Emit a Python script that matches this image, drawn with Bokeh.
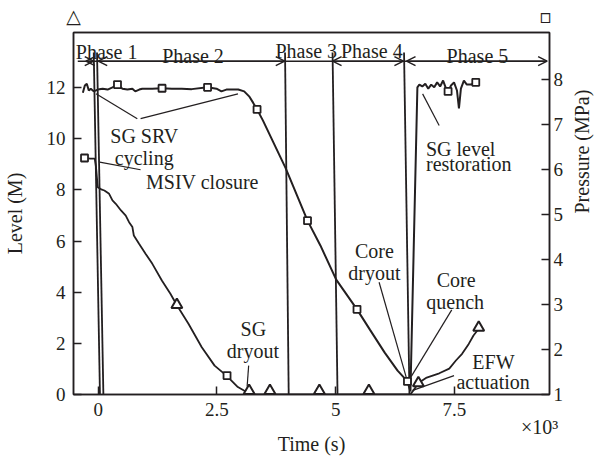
import math
from bokeh.plotting import figure
from bokeh.models import Range1d, LinearAxis, FixedTicker, Label, Arrow, OpenHead
from bokeh.embed import file_html
from bokeh.resources import INLINE

FONT = "Liberation Serif"
INK = "#231f20"

# ---------------- data ----------------
# SG pressure (MPa, right axis) vs time (s)
pressure_t = [-323, -281, -240, -198, -156, -94, -10, 94, 198, 302, 406, 510, 615, 719, 781,
              865, 927, 1135, 1344, 1552, 1760, 1969, 2302, 2490, 2594, 2698, 2948, 3073, 3177,
              3260, 3344, 3469, 3948, 4406, 4677, 5010, 5448, 5719, 6031, 6302, 6510, 6573,
              6719, 6760, 6823, 6885, 6948, 7010, 7073, 7135, 7198, 7260, 7323, 7365, 7427,
              7490, 7552, 7594, 7635, 7698, 7760, 7844, 7948]
pressure_mpa = [7.70, 7.86, 7.90, 7.75, 7.79, 7.73, 7.77, 7.79, 7.77, 7.82, 7.88, 7.79, 7.77, 7.79, 7.73,
                7.77, 7.79, 7.79, 7.80, 7.79, 7.79, 7.78, 7.82, 7.79, 7.73, 7.77, 7.77, 7.73, 7.62,
                7.48, 7.33, 7.08, 6.02, 4.86, 4.31, 3.55, 2.89, 2.44, 1.93, 1.53, 1.29, 1.07,
                7.82, 7.88, 7.84, 7.90, 7.79, 7.88, 7.82, 7.93, 7.84, 7.97, 7.79, 7.73, 7.86,
                7.93, 7.75, 7.35, 7.79, 7.97, 7.88, 7.88, 7.93]

# SG level (m, left axis) vs time (s)
level_t = [-288, -160, -73, -46, -10, 79, 130, 230, 300, 370, 480, 580, 650, 720, 750, 860, 1000,
           1140, 1340, 1520, 1660, 1900, 2180, 2450, 2700, 2940, 3150, 3220, 6570, 6650, 6740,
           6900, 7180, 7390, 7530, 7660, 7800, 7900, 8010]
level_m = [9.25, 9.23, 9.23, 8.90, 8.11, 8.01, 7.98, 7.85, 7.59, 7.46, 7.20, 7.00, 6.74, 6.55, 6.22,
           5.90, 5.50, 5.11, 4.46, 3.94, 3.48, 2.77, 1.85, 1.13, 0.74, 0.29, 0.07, 0.0, 0.0, 0.2,
           0.45, 0.65, 0.83, 1.01, 1.33, 1.59, 1.98, 2.31, 2.57]

# markers
tri_t = [1656, 3177, 3615, 4656, 5698, 6740, 8010]
tri_level = [3.51, 0.14, 0.14, 0.14, 0.14, 0.45, 2.62]
lsq_t = [-288, 2712]
lsq_level = [9.25, 0.74]
psq_t = [406, 1344, 2302, 3344, 4406, 5448, 6510, 7365, 7948]
psq_mpa = [7.88, 7.80, 7.82, 7.33, 4.86, 2.89, 1.29, 7.73, 7.93]

# phase boundaries (drawn slightly slanted as in the source figure)
div_t_top = [-94, -25, 3933, 4933, 6438]
div_t_bottom = [37, 109, 4010, 5038, 6552]
div_level_top = 13.38

phase_names = ["Phase 1", "Phase 2", "Phase 3", "Phase 4", "Phase 5"]
phase_label_t = [177, 1996, 4379, 5760, 7983]
phase_label_level = [13.39, 13.26, 13.43, 13.43, 13.26]
phase_start = [-260, 0, 3933, 4933, 6490]
phase_end = [-94, 3927, 4933, 6425, 9450]
phase_heads = [True, True, False, True, True]
arrow_level = 13.04
arrow_tail_start = -430

# ticks
x_ticks = [0, 2500, 5000, 7500]
x_tick_labels = ["0", "2.5", "5", "7.5"]
level_ticks = [0, 2, 4, 6, 8, 10, 12]
pressure_ticks = [1, 2, 3, 4, 5, 6, 7, 8]
x_scale_note = "×10³"
x_scale_note_t = 9290
key_t = [-519, 9413]           # series key symbols above the frame
key_symbols = ["△", "▫"]

# annotation leader lines (t, level)
lead_x0 = [-46, 892, 31, 3167, 5913, 7442, 7490, 7177]
lead_y0 = [11.76, 10.79, 9.09, 1.13, 4.39, 3.31, 0.74, 10.52]
lead_x1 = [823, 2942, 892, 3135, 6483, 6588, 6621, 6829]
lead_y1 = [10.79, 11.76, 8.79, 0.31, 0.68, 0.70, 0.16, 11.76]

# ---------------- figure ----------------
p = figure(width=607, height=458, output_backend="svg", toolbar_location=None,
           x_range=Range1d(-520, 9500), y_range=Range1d(0, 14.16),
           min_border_left=71, min_border_right=55, min_border_top=32, min_border_bottom=64)
p.extra_y_ranges = {"p": Range1d(1, 1 + 362 / 45.04)}
p.grid.visible = False
p.outline_line_color = INK
p.outline_line_width = 1.5
p.background_fill_color = "white"
p.border_fill_color = "white"

right = LinearAxis(y_range_name="p")
p.add_layout(right, "right")

p.xaxis.ticker = FixedTicker(ticks=x_ticks)
p.xaxis.major_label_overrides = {t: l for t, l in zip(x_ticks, x_tick_labels)}
p.yaxis[0].ticker = FixedTicker(ticks=level_ticks)
right.ticker = FixedTicker(ticks=pressure_ticks)

p.yaxis[0].axis_label = "Level (M)"
right.axis_label = "Pressure (MPa)"
if "axis_label_orientation" in right.properties():
    right.axis_label_orientation = math.pi / 2

def style_axis(ax, so, lso, tick_size="19px"):
    ax.major_tick_in = 8
    ax.major_tick_out = 0
    ax.minor_tick_line_color = None
    ax.axis_line_color = INK
    ax.axis_line_width = 1.5
    ax.major_tick_line_color = INK
    ax.major_tick_line_width = 1.5
    ax.major_label_text_font = FONT
    ax.major_label_text_font_size = tick_size
    ax.major_label_text_color = INK
    ax.major_label_standoff = so
    ax.axis_label_text_font = FONT
    ax.axis_label_text_font_size = "20px"
    ax.axis_label_text_font_style = "normal"
    ax.axis_label_text_color = INK
    ax.axis_label_standoff = lso

style_axis(p.xaxis[0], 8, 8)
style_axis(p.yaxis[0], 8, 18)
style_axis(right, 4, 16)

# second (tick-less) bottom axis carrying the x10^3 note and the time title
note_axis = LinearAxis(ticker=FixedTicker(ticks=[x_scale_note_t]),
                       major_label_overrides={x_scale_note_t: x_scale_note},
                       axis_label="Time (s)")
style_axis(note_axis, -3, -8, tick_size="20px")
note_axis.axis_line_color = None
note_axis.major_tick_line_color = None
p.add_layout(note_axis, "below")

# top axis carrying the series key symbols (triangle = level, square = pressure)
key_axis = LinearAxis(ticker=FixedTicker(ticks=key_t),
                      major_label_overrides={t: s for t, s in zip(key_t, key_symbols)})
style_axis(key_axis, 6, 0, tick_size="19px")
key_axis.major_label_text_font = "DejaVu Sans"
key_axis.major_label_text_font_style = "bold"
key_axis.major_tick_line_color = None
p.add_layout(key_axis, "above")

# phase dividers
p.segment(x0=div_t_top, y0=[div_level_top] * len(div_t_top), x1=div_t_bottom,
          y1=[0] * len(div_t_bottom), line_color=INK, line_width=1.8)

# curves
p.line(level_t, level_m, line_color=INK, line_width=1.8)
p.line(pressure_t, pressure_mpa, y_range_name="p", line_color=INK, line_width=2.0)

# markers
p.scatter(tri_t, tri_level, marker="triangle", size=11, fill_color="white",
          line_color=INK, line_width=2)
p.scatter(lsq_t, lsq_level, marker="square", size=7, fill_color="white",
          line_color=INK, line_width=1.8)
p.scatter(psq_t, psq_mpa, marker="square", size=7, fill_color="white",
          line_color=INK, line_width=1.8, y_range_name="p")

# leader lines
p.segment(x0=lead_x0, y0=lead_y0, x1=lead_x1, y1=lead_y1, line_color=INK, line_width=1.2)

# phase arrows
p.segment(x0=[arrow_tail_start], y0=[arrow_level], x1=[phase_end[-1]], y1=[arrow_level],
          line_color=INK, line_width=1.5)
for s, e, h in zip(phase_start, phase_end, phase_heads):
    if h:
        p.add_layout(Arrow(x_start=s, y_start=arrow_level, x_end=e, y_end=arrow_level,
                           start=OpenHead(size=9, line_width=1.5, line_color=INK),
                           end=OpenHead(size=9, line_width=1.5, line_color=INK),
                           line_color=INK, line_width=1.5))

def lab(x, y, text, align="center"):
    p.add_layout(Label(x=x, y=y, text=text, text_font=FONT, text_font_size="20px",
                       text_color=INK, text_align=align, text_baseline="alphabetic"))

for name, x, y in zip(phase_names, phase_label_t, phase_label_level):
    lab(x, y, name)

# annotations
lab(969, 10.13, "SG SRV")
lab(969, 9.27, "cycling")
lab(2194, 8.31, "MSIV closure")
lab(3265, 2.58, "SG")
lab(3255, 1.72, "dryout")
lab(5813, 5.61, "Core")
lab(5813, 4.75, "dryout")
lab(7535, 4.46, "Core")
lab(7515, 3.61, "quench")
lab(8319, 1.26, "EFW")
lab(8313, 0.48, "actuation")
lab(6900, 9.61, "SG level", align="left")
lab(6900, 9.00, "restoration", align="left")

open("out.html", "w").write(file_html(p, INLINE))
